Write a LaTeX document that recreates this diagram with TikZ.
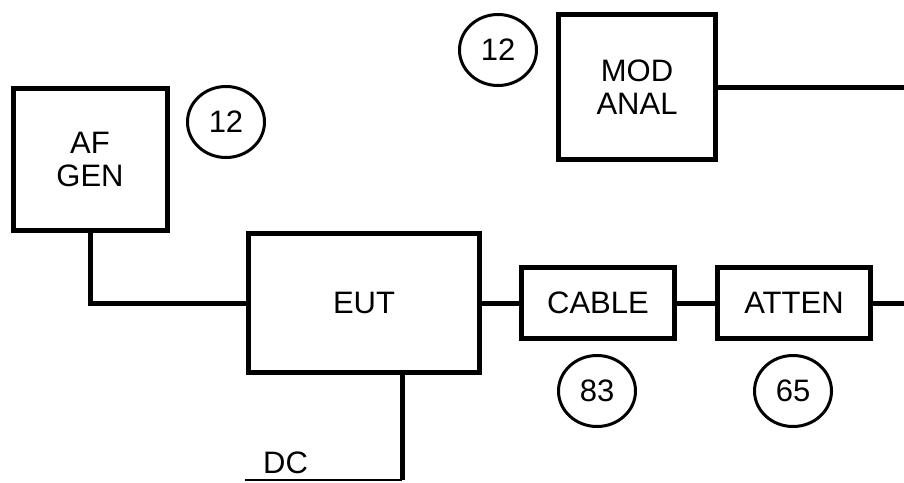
\documentclass[tikz,border=0pt]{standalone}
\usepackage{fontspec}
\setmainfont{Liberation Sans}
\usetikzlibrary{positioning,calc,shapes.geometric}
\definecolor{ink}{HTML}{000000}

\begin{document}
\begin{tikzpicture}[
    x=1pt, y=-1pt,
    font=\fontsize{31}{33}\selectfont, text=ink,
    box/.style={draw=ink, line width=5pt, align=center, inner sep=0pt},
    tag/.style={ellipse, draw=ink, line width=3pt, inner sep=0pt,
                minimum width=77pt, minimum height=71pt},
    wire/.style={draw=ink, line width=5pt},
    lead/.style={draw=ink, line width=2pt},
    lbl/.style={inner sep=0pt},
  ]
  \useasboundingbox (0,0) rectangle (904,482);

  % ---- sources and meters
  \node[box, minimum width=154pt, minimum height=142pt] (afgen) at (90,159) {AF\\GEN};
  \node[box, minimum width=157pt, minimum height=145pt] (modanal) at (637,87) {MOD\\ANAL};
  \node[tag] (afno) at (226,122) {12};
  \node[tag] (modno) at (498,50) {12};

  % ---- signal chain
  \node[box, minimum width=231pt, minimum height=139pt] (eut) at (364,303) {EUT};
  \node[box, minimum width=153pt, minimum height=71pt] (cable) at (598,303) {CABLE};
  \node[box, minimum width=153pt, minimum height=71pt] (atten) at (794,303) {ATTEN};
  \node[tag] (cableno) at (597,391) {83};
  \node[tag] (attenno) at (793,391) {65};

  % free ends at the right edge and at the supply
  \coordinate (chainout) at (906,303);
  \coordinate (modout) at (906,87);
  \coordinate (dcin) at (402,480);
  \coordinate (dcend) at (245,480);

  \draw[wire] (afgen.south) |- (eut.west);
  \draw[wire] (eut.east) -- (cable.west);
  \draw[wire] (cable.east) -- (atten.west);
  \draw[wire] (atten.east) -- (chainout);
  \draw[wire] (modanal.east |- modout) -- (modout);

  % dc supply
  \draw[wire] (eut.south -| dcin) -- (dcin);
  \draw[lead] (dcin) -- (dcend);
  \node[lbl, anchor=base west] (dc) at (263,473) {DC};
\end{tikzpicture}
\end{document}
